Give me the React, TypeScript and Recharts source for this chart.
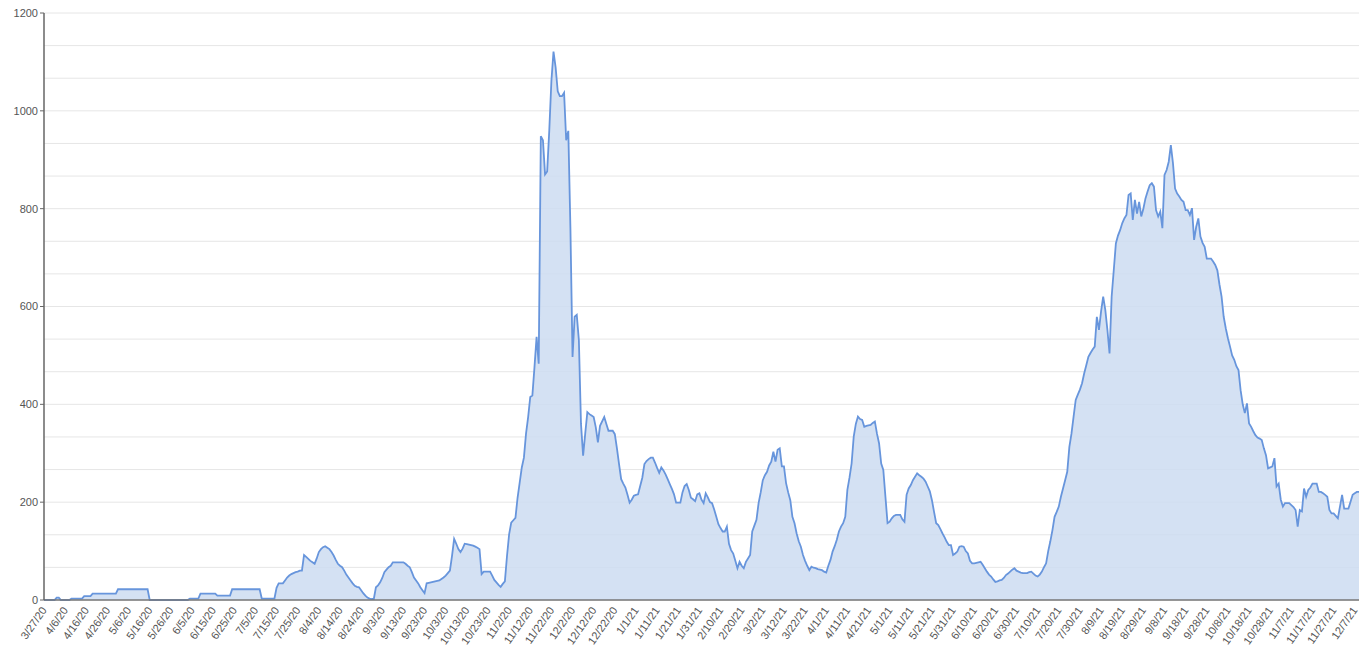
import React from "react";
import { AreaChart, Area, XAxis, YAxis, CartesianGrid } from "recharts";

const startDate = "2020-03-27";

const cases2020: number[] = [
  0,0,0,0,0,0,5,5,0,0,
  0,0,0,3,3,3,3,3,3,8,
  8,8,8,13,13,13,13,13,13,13,
  13,13,13,13,13,22,22,22,22,22,
  22,22,22,22,22,22,22,22,22,22,
  0,0,0,0,0,0,0,0,0,0,
  0,0,0,0,0,0,0,0,0,3,
  3,3,3,3,13,13,13,13,13,13,
  13,13,9,9,9,9,9,9,9,22,
  22,22,22,22,22,22,22,22,22,22,
  22,22,22,3,3,3,3,3,3,3,
  25,34,34,34,40,46,50,53,55,57,
  58,60,60,92,88,84,80,77,74,85,
  98,104,108,110,107,104,98,91,82,74,
  70,67,60,52,46,40,34,29,27,26,
  20,14,9,5,3,2,2,26,30,36,
  45,57,62,67,70,77,77,77,77,77,
  77,74,70,67,57,46,40,34,26,20,
  14,34,35,36,37,38,39,40,43,46,
  50,55,60,90,125,115,104,98,105,115,
  114,113,112,111,109,107,104,53,58,58,
  58,58,50,41,36,31,27,33,38,90,
  134,158,163,168,209,240,271,291,340,374,
  415,418,476,538,483,948,940,870,876,960,
  1061,1121,1089,1040,1030,1030,1037,940,959,760,
  497,579,583,531,360,295,340,384,380,377,
  374,353,322,356,365,374,360,346,346,346,
  339,310,278,247,238,230,215,199,205,213,
];

const cases2021: number[] = [
  215,216,233,250,278,284,288,291,291,281,
  270,260,271,265,257,247,237,227,216,199,
  199,199,220,233,237,225,209,206,202,216,
  218,205,198,218,210,200,198,185,170,155,
  147,140,140,150,115,102,95,80,65,78,
  70,65,78,85,92,140,152,164,198,220,
  245,255,262,275,283,303,283,307,310,273,
  273,239,220,204,170,157,136,120,109,92,
  80,70,61,68,66,65,63,62,61,58,
  56,70,82,99,110,123,140,150,157,170,
  225,250,279,334,360,375,370,368,354,356,
  357,358,362,365,340,320,279,266,211,157,
  160,167,172,174,174,174,165,160,215,228,
  235,245,252,259,255,252,248,242,232,222,
  204,180,157,153,145,136,128,119,112,112,
  92,95,99,109,110,109,100,95,80,75,
  75,76,77,78,72,65,58,52,48,42,
  37,38,40,41,45,51,54,58,62,65,
  60,58,56,55,55,55,57,58,54,50,
  48,52,58,67,75,100,120,143,170,180,
  191,211,228,245,262,313,340,375,409,420,
  430,443,463,480,497,505,512,518,579,552,
  590,620,593,552,504,620,674,729,745,756,
  770,780,787,828,831,777,818,790,814,784,
  800,821,835,848,852,845,797,784,794,760,
  869,879,896,930,893,841,831,825,818,814,
  797,797,787,801,736,763,780,743,730,722,
  698,698,698,692,685,674,645,620,579,555,
  535,518,500,491,478,470,429,400,382,402,
  361,354,345,337,332,330,327,310,296,269,
  271,273,290,232,238,205,191,198,198,198,
  194,190,184,150,184,181,228,211,225,230,
  238,238,238,221,221,218,215,211,184,177,
  177,172,167,191,215,187,187,187,201,215,
  218,221,221,
];

const yTicks = [0, 200, 400, 600, 800, 1000, 1200];
const gridValues = [0, 66.67, 133.33, 200, 266.67, 333.33, 400, 466.67, 533.33, 600, 666.67, 733.33, 800, 866.67, 933.33, 1000, 1066.67, 1133.33, 1200];

const fmtDate = (i: number) => {
  const d = new Date(startDate + "T00:00:00Z");
  d.setUTCDate(d.getUTCDate() + i);
  return `${d.getUTCMonth() + 1}/${d.getUTCDate()}/${String(d.getUTCFullYear()).slice(2)}`;
};

const allCases = [...cases2020, ...cases2021];
const data = allCases.map((v, i) => ({ date: fmtDate(i), cases: v }));

const XTick = (props: any) => {
  const { x, y, payload } = props;
  return (
    <g transform={`translate(${x},${y})`}>
      <text
        x={0}
        y={0}
        dy={4}
        textAnchor="end"
        transform="rotate(-55)"
        fontSize={11}
        fontFamily="'Liberation Sans', Arial, sans-serif"
        fill="#555"
      >
        {payload.value}
      </text>
    </g>
  );
};

export default function App() {
  return (
    <div>
      <style>{"body{margin:0;overflow:hidden;background:#fff}"}</style>
      <AreaChart
        width={1367}
        height={653}
        data={data}
        margin={{ top: 13, right: 8, bottom: 3, left: 0 }}
      >
        <CartesianGrid
          vertical={false}
          stroke="#e6e6e6"
          horizontalValues={gridValues}
        />
        <XAxis
          dataKey="date"
          interval={9}
          tick={<XTick />}
          tickLine={false}
          axisLine={{ stroke: "#777", strokeWidth: 1.5 }}
          height={50}
          tickMargin={2}
        />
        <YAxis
          domain={[0, 1200]}
          ticks={yTicks}
          width={44}
          tickSize={4}
          tickLine={{ stroke: "#666" }}
          axisLine={{ stroke: "#666", strokeWidth: 1.5 }}
          tick={{ fontSize: 11, fill: "#555", fontFamily: "'Liberation Sans', Arial, sans-serif" }}
          interval={0}
        />
        <Area
          type="linear"
          dataKey="cases"
          stroke="#6795dc"
          strokeWidth={1.8}
          fill="#cddcf1"
          fillOpacity={0.85}
          isAnimationActive={false}
          dot={false}
          activeDot={false}
        />
      </AreaChart>
    </div>
  );
}
